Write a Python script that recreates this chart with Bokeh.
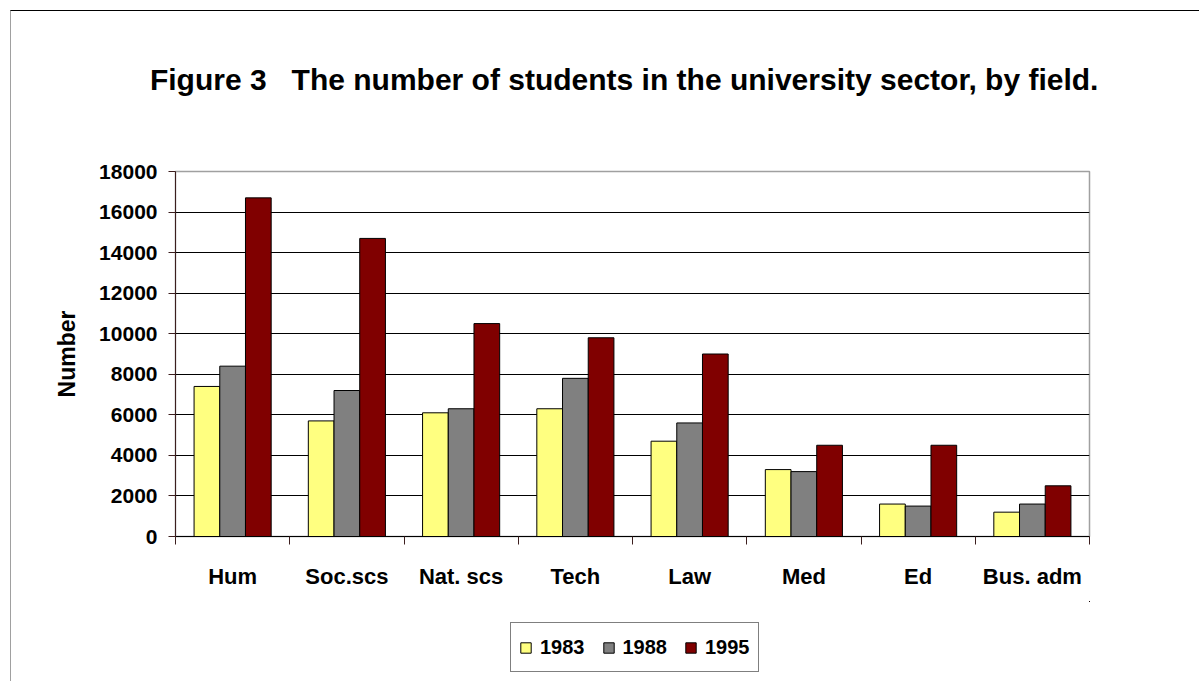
import numpy as np
from bokeh.plotting import figure
from bokeh.layouts import column
from bokeh.models import (ColumnDataSource, FixedTicker, Legend, LegendItem, Title, Range1d)
from bokeh.embed import file_html
from bokeh.resources import INLINE

categories = ["Hum", "Soc.scs", "Nat. scs", "Tech", "Law", "Med", "Ed", "Bus. adm"]
years = ["1983", "1988", "1995"]
v1983 = [7400, 5700, 6100, 6300, 4700, 3300, 1600, 1200]
v1988 = [8400, 7200, 6300, 7800, 5600, 3200, 1500, 1600]
v1995 = [16700, 14700, 10500, 9800, 9000, 4500, 4500, 2500]
colors = ["#FFFF80", "#808080", "#800000"]
y_ticks = list(range(0, 18001, 2000))

FONT = "Liberation Sans"

p = figure(width=1188, height=590, output_backend="svg", toolbar_location=None,
           x_range=Range1d(0, len(categories)), y_range=Range1d(0, 18000),
           min_border_left=164, min_border_right=110, min_border_top=160,
           min_border_bottom=65)

centers = np.arange(len(categories)) + 0.5
offsets = [-0.225, 0.0, 0.225]
series = [v1983, v1988, v1995]
sources = []
for vals, off, col in zip(series, offsets, colors):
    src = ColumnDataSource(dict(x=centers + off, top=vals))
    sources.append(src)
    p.vbar(x="x", top="top", width=0.225, source=src, fill_color=col,
           line_color="black", line_width=1)

# Title (second, blank line lifts the text away from the plot area)
t = Title(text="Figure 3\u00a0\u00a0\u00a0The number of students in the university sector, by field.\u00a0\u00a0\n\u00a0",
          text_font=FONT, text_font_size="30px", text_font_style="bold",
          text_color="black", align="center", standoff=86)
p.add_layout(t, "above")

# axes
p.xaxis.ticker = FixedTicker(ticks=list(centers), minor_ticks=list(range(len(categories) + 1)))
p.xaxis.major_label_overrides = {float(c): name for c, name in zip(centers, categories)}
p.xaxis.major_tick_out = 0
p.xaxis.major_tick_in = 0
p.xaxis.minor_tick_out = 8
p.xaxis.minor_tick_in = 0
p.xaxis.minor_tick_line_color = "#3c1e1e"
p.xaxis.axis_line_color = "black"
p.xaxis.major_label_text_font = FONT
p.xaxis.major_label_text_font_size = "22px"
p.xaxis.major_label_text_font_style = "bold"
p.xaxis.major_label_text_color = "black"
p.xaxis.major_label_standoff = 19

p.yaxis.ticker = FixedTicker(ticks=y_ticks)
p.yaxis.major_tick_out = 7
p.yaxis.major_tick_in = 0
p.yaxis.minor_tick_line_color = None
p.yaxis.axis_line_color = "#3c1e1e"
p.yaxis.major_tick_line_color = "#3c1e1e"
p.yaxis.major_label_text_font = FONT
p.yaxis.major_label_text_font_size = "21px"
p.yaxis.major_label_text_font_style = "bold"
p.yaxis.major_label_text_color = "black"
p.yaxis.major_label_standoff = 11
p.yaxis.axis_label = "Number"
p.yaxis.axis_label_text_font = FONT
p.yaxis.axis_label_text_font_size = "23px"
p.yaxis.axis_label_text_font_style = "bold"
p.yaxis.axis_label_text_color = "black"
p.yaxis.axis_label_standoff = 16

p.xgrid.grid_line_color = None
p.ygrid.ticker = FixedTicker(ticks=y_ticks[1:-1])
p.ygrid.grid_line_color = "black"
p.ygrid.grid_line_width = 1

p.outline_line_color = "#a0a0a0"
p.outline_line_width = 1.5
p.background_fill_color = "white"
p.border_fill_color = "white"

# Legend strip (separate figure so the legend is not clipped); its bars fall
# outside its visible ranges, only their legend swatches are shown
p2 = figure(width=1188, height=80, output_backend="svg", toolbar_location=None,
            x_axis_type=None, y_axis_type=None,
            min_border_left=164, min_border_right=110, min_border_top=0, min_border_bottom=0,
            x_range=Range1d(-20, -10), y_range=Range1d(-2, -1))
p2.grid.visible = False
p2.outline_line_color = None
p2.background_fill_color = "white"
p2.border_fill_color = "white"
swatches = []
for src, col in zip(sources, colors):
    swatches.append(p2.vbar(x="x", top="top", width=0.1, source=src, fill_color=col,
                            line_color="black", line_width=1))
legend = Legend(items=[LegendItem(label=y, renderers=[r]) for y, r in zip(years, swatches)],
                orientation="horizontal", location=(335, 9),
                label_text_font=FONT, label_text_font_size="20px",
                label_text_font_style="bold", label_text_color="black",
                glyph_width=13, glyph_height=13, label_standoff=8, spacing=17,
                padding=8, margin=0, border_line_color="black", border_line_width=1,
                background_fill_color="white", background_fill_alpha=1.0,
                label_height=32)
p2.add_layout(legend, "center")

layout = column(p, p2, spacing=0,
                styles={"margin": "10px 0 0 10px",
                        "border-left": "1px solid #a0a0a0", "border-top": "1px solid #000000"})

open("out.html", "w").write(file_html(layout, INLINE))
